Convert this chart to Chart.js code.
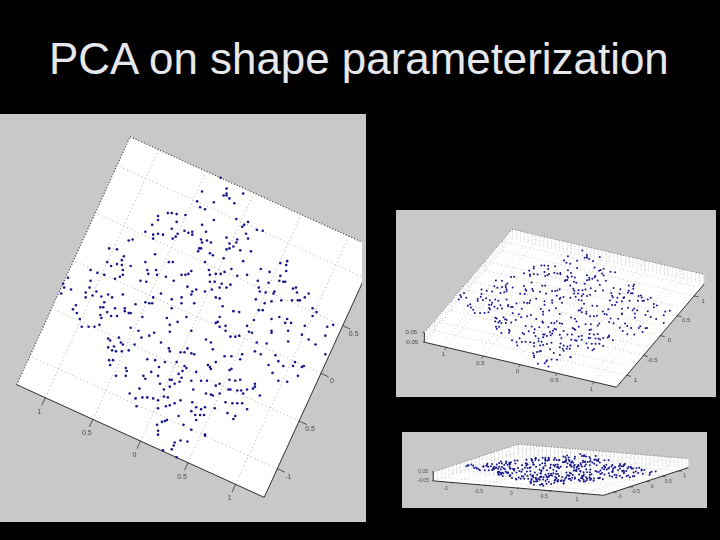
<!DOCTYPE html>
<html>
<head>
<meta charset="utf-8">
<title>PCA on shape parameterization</title>
<script src="https://cdn.jsdelivr.net/npm/chart.js@4"></script>
<style>
  html, body { margin: 0; background: #000; width: 720px; height: 540px; overflow: hidden; }
  h1 { position: absolute; left: 49px; top: 34px; margin: 0; color: #e6e8ec; white-space: nowrap;
       font: normal 43.9px/50px "Liberation Sans", Arial, sans-serif; }
  canvas { position: absolute; background: #c8c8c8; filter: blur(0.4px); }
</style>
</head>
<body>
<h1>PCA on shape parameterization</h1>
<canvas id="top-view" width="366" height="408" style="left:0;top:114px"></canvas>
<canvas id="tilt-view" width="320" height="187" style="left:396px;top:210px"></canvas>
<canvas id="side-view" width="305" height="76" style="left:402px;top:432px"></canvas>
<script>
// scores on the first two components
const pc1 = [
  .24,.30,.30,.27,.30,.33,.38,.47,.05,.00,.03,.08,.17,-.30,-.26,-.21,-.12,-.40,-.40,-.21,
  .05,.17,.40,.48,.52,.46,-.46,-.26,-.13,-.09,-.05,-.05,.09,-.53,-.45,-.45,-.40,-.35,-.22,-.25,
  -.20,.50,.41,.61,.67,.52,.30,.04,.05,.10,.14,.37,.40,.44,.55,.33,.02,.04,.01,.30,
  .33,.13,.16,-.90,-.82,-.70,-.66,-.43,-.75,-.77,-.92,-.82,-.88,-.77,-.68,-.53,-.29,-.25,.08,.27,
  .47,.35,.85,.92,.91,.65,.74,.91,.85,.84,.88,.90,.62,-1.09,-1.02,-.95,-.76,-.76,-.84,-.79,
  -.51,-.50,-.42,-.41,-.32,-.06,-.09,-.12,-.16,.12,.13,.19,.24,.28,.41,.51,.73,-1.32,-1.37,-1.29,
  -1.39,-1.36,-1.09,-1.10,-1.14,-1.14,-1.07,-1.03,-.58,-.52,-.24,-.10,-.01,-.05,.18,.13,.25,.34,.30,.23,
  .15,.08,-.37,-.45,-.76,-.91,-.87,-.98,-.06,-.16,-.26,-.16,.19,.23,.60,.64,.70,.78,.79,.69,
  .76,.86,.97,1.03,1.01,.98,1.02,1.14,1.10,1.05,.63,-.03,-.63,-.53,-.49,-.46,-.95,-.99,-.96,-1.24,
  -1.27,-1.23,-.84,-.92,-.88,-.82,-.74,-.74,-.70,-.68,-.99,-.98,-1.20,-.56,-.26,-.31,-.20,.19,.21,.23,
  .26,.37,.43,.63,.67,.58,.76,.84,.92,.90,.96,1.18,1.22,1.18,-.11,
  -1.18,-1.11,-1.05,-1.00,-.68,-.60,-.44,-.49,-.57,-.28,-.28,-.06,.23,.29,.29,.34,.39,.43,.51,.53,
  .56,.76,.76,.93,1.07,1.10,1.31,1.33,1.39,1.14,1.21,1.31,.93,.61,.71,.59,.65,.46,.44,.35,
  .28,.80,.83,.88,1.00,.98,1.09,1.07,.73,.77,1.03,.92,.83,.59,.59,.64,.33,.35,.33,.39,
  .44,.23,.19,.57,.51,.47,.45,.41,.34,.32,-.91,-.89,-.80,-.78,-.76,-.91,-.85,-.87,-.83,-.77,
  -.70,-.64,-.90,-.86,-.89,-.73,-.72,-.73,-.83,-.55,-.53,-.47,-.39,-.40,-.37,-.29,-.28,-.17,-.13,-.10,
  -.06,-.03,.09,.14,.16,-.51,-.43,-.33,-.21,-.13,-.11,.11,.13,.14,.19,-.15,-.19,-.01,-.28,-.26,
  -.16,-.18,-.23,-.28,-.38,-.34,-.59,-.69,-.63,-.56,-.51,-.45,-.34,-.30,-.40,-.06,.04,.10,-.04,.09,
  .14,.16,.23,-.17,-.62,-.40,-.32,-.28,-.23,-.05,-.06,-.01,.04,.08,-.02,.03,.07,.18,.31,.39,
  .37,.46,.51,.41,.36,.29,-.31,-.33,-.36,-.41,-.40,-.40,-.19,-.14,-.06,-.01,.08,.08,-.23,-.24,
  -.17,-.10,-.26,-.35,-.21
];
const pc2 = [
  1.42,1.31,1.26,1.24,1.24,1.21,1.16,1.26,1.28,1.18,1.12,1.10,1.17,1.06,1.06,1.05,1.04,1.03,.99,.97,
  .94,.99,1.00,.94,.97,.92,.94,.90,.88,.86,.87,.84,.87,.87,.84,.80,.85,.84,.82,.80,
  .85,.85,.79,.89,.88,.80,.81,.79,.76,.78,.76,.72,.76,.68,.67,.75,.70,.70,.67,.69,
  .70,.65,.63,.70,.69,.78,.79,.64,.62,.58,.56,.54,.52,.53,.52,.56,.56,.56,.56,.60,
  .57,.49,.55,.57,.53,.49,.46,.47,.42,.37,.36,.36,.37,.48,.45,.43,.48,.43,.39,.41,
  .48,.44,.48,.43,.41,.47,.44,.43,.43,.48,.43,.44,.44,.46,.42,.43,.35,.40,.34,.28,
  .24,.30,.37,.30,.25,.20,.22,.26,.37,.36,.37,.31,.28,.26,.36,.36,.34,.33,.30,.30,
  .28,.26,.24,.20,.23,.23,.20,.21,.23,.20,.18,.14,.20,.19,.18,.26,.25,.24,.26,.14,
  .16,.17,.17,.17,.30,.29,.25,.24,.20,.17,.30,.14,.13,.15,.14,.14,.15,.10,.10,.12,
  .08,.04,.09,.05,.01,.01,.09,.06,.04,.04,.02,-.01,-.02,.00,.09,-.01,-.05,-.06,-.05,.00,
  .11,.06,.05,.07,.07,-.03,-.02,.00,-.02,-.06,-.06,.09,.05,.01,.00,
  -.10,-.10,-.10,-.08,-.11,-.14,-.16,-.19,-.21,-.08,-.15,-.14,-.10,-.09,-.14,-.20,-.20,-.19,-.09,-.15,
  -.16,-.14,-.16,-.14,-.18,-.09,-.19,-.10,-.08,-.23,-.28,-.38,-.25,-.26,-.27,-.35,-.38,-.38,-.43,-.40,
  -.40,-.39,-.45,-.50,-.46,-.50,-.50,-.51,-.49,-.57,-.60,-.66,-.65,-.68,-.71,-.80,-.54,-.53,-.64,-.65,
  -.64,-.68,-.70,-.73,-.74,-.78,-.75,-.75,-.74,-.74,-.22,-.24,-.21,-.26,-.28,-.31,-.30,-.34,-.35,-.35,
  -.34,-.28,-.44,-.44,-.49,-.52,-.55,-.60,-.60,-.60,-.63,-.56,-.51,-.60,-.26,-.32,-.35,-.36,-.36,-.32,
  -.37,-.38,-.23,-.26,-.33,-.43,-.44,-.46,-.46,-.50,-.52,-.49,-.51,-.53,-.46,-.55,-.58,-.56,-.64,-.64,
  -.62,-.66,-.68,-.71,-.68,-.74,-.73,-.78,-.83,-.82,-.82,-.83,-.81,-.82,-.85,-.65,-.65,-.65,-.74,-.78,
  -.79,-.80,-.78,-.85,-.91,-.93,-.91,-.90,-.88,-.87,-.96,-.92,-.94,-.92,-1.00,-1.00,-1.00,-.93,-.98,-1.01,
  -1.04,-.88,-.94,-.88,-.88,-.87,-1.05,-1.06,-1.07,-1.10,-1.16,-1.20,-1.01,-1.10,-1.15,-1.05,-1.20,-1.21,-1.28,-1.31,
  -1.26,-1.27,-1.35,-1.36,-1.43
];

// axis ticks of the cube
const planeTicks = [-1, -0.5, 0, 0.5, 1];
const planeEnd = 1.3;
const zTicks = [-1, -0.5, 0, 0.5, 1];
const zTickLabels = ["-0.05", "0.05"];

// one entry per picture: how the cube was turned, and the window on the scales
const views = [
  { id: "top-view", eu: [-0.973, 0.442], ev: [0.446, 0.973], zh: 0, zoomX: [-1.975, 1.685], zoomY: [-2.05, 2.03],
    uLabels: ["1", "0.5", "0", "0.5", "1"], vLabels: ["-1", "0.5", "0", "0.5", "1"],
    font: 7, dot: 1.3, tick: 0.08, uOff: [-6, 14], vOff: [11, 8], gridColor: "#8a8a8a" },
  { id: "tilt-view", eu: [-0.758, 0.181], ev: [0.346, 0.415], zh: 0.05, zoomX: [-1.685, 1.515], zoomY: [-0.885, 0.985],
    uLabels: ["1", "0.5", "0", "0.5", "1"], vLabels: ["1", "-0.5", "0", "0.5", "1"],
    font: 6, dot: 1, tick: 0.06, uOff: [-3, 7], vOff: [9, 5], zOff: [-13, 0], gridColor: "#b0b0b0" },
  { id: "side-view", eu: [-0.673, 0.062], ev: [0.335, 0.119], zh: 0.05, zoomX: [-1.59, 1.46], zoomY: [-0.3825, 0.3775],
    uLabels: ["-1", "-0.5", "0", "0.5", "1"], vLabels: ["-1", "-0.5", "0", "0.5", "1"],
    font: 5, dot: 1, tick: 0.05, uOff: [-7, 6], vOff: [6, 5], zOff: [-10, 0], gridColor: "#bcbcbc" }
];

// the top view's turn relates the scores to the cube axes
const [a, c] = views[0].eu;
const [b, d] = views[0].ev;
const det = a * d - b * c;
const cubeU = pc1.map((p, i) => (d * p - b * pc2[i]) / det);
const cubeV = pc1.map((p, i) => (a * pc2[i] - c * p) / det);

function project(view, u, v, z) {
  return {
    x: u * view.eu[0] + v * view.ev[0],
    y: u * view.eu[1] + v * view.ev[1] + z * view.zh
  };
}

// segments with a gap between them, so one dataset holds many lines
function segments(view, list) {
  const out = [];
  list.forEach(s => {
    out.push(project(view, s[0], s[1], s[2]));
    out.push(project(view, s[3], s[4], s[5]));
    out.push({ x: null, y: null });
  });
  return out;
}

function lineSet(data, color, width, dash, order) {
  return { type: "scatter", showLine: true, data, borderColor: color, borderWidth: width, borderDash: dash,
    pointRadius: 0, tension: 0, spanGaps: false, order };
}

function makeDatasets(view) {
  const e = planeEnd;
  const hull = view.zh
    ? [[e, -e, 1], [e, e, 1], [-e, e, 1], [-e, e, -1], [-e, -e, -1], [e, -e, -1], [e, -e, 1]]
    : [[e, -e, 0], [e, e, 0], [-e, e, 0], [-e, -e, 0], [e, -e, 0]];
  const floor = view.zh ? -1 : 0;

  // floor grid, and back walls when the cube is tilted
  const grid = [];
  planeTicks.forEach(t => {
    grid.push([t, -e, floor, t, e, floor]);
    grid.push([-e, t, floor, e, t, floor]);
    if (view.zh) {
      grid.push([t, -e, 1, t, e, 1]);
      grid.push([-e, t, 1, e, t, 1]);
      grid.push([t, e, -1, t, e, 1]);
      grid.push([e, t, -1, e, t, 1]);
    }
  });
  if (view.zh) {
    zTicks.forEach(z => {
      grid.push([e, -e, z, e, e, z]);
      grid.push([e, e, z, -e, e, z]);
    });
  }

  const backEdges = [[e, e, view.zh ? 1 : 0, -e, e, view.zh ? 1 : 0], [e, -e, view.zh ? 1 : 0, e, e, view.zh ? 1 : 0]];
  const frontEdges = [[e, -e, floor, -e, -e, floor], [-e, -e, floor, -e, e, floor]];
  const ticks = [];
  planeTicks.forEach(t => {
    ticks.push([t, -e, floor, t, -e - view.tick, floor]);
    ticks.push([-e, t, floor, -e - view.tick, t, floor]);
  });
  if (view.zh) {
    frontEdges.push([e, -e, -1, e, -e, 1]);
    [-1, 1].forEach(z => ticks.push([e + view.tick * 0.4, -e, z, e, -e, z]));
  }

  return [
    { type: "scatter", label: "scores", data: cubeU.map((u, i) => project(view, u, cubeV[i], 0)),
      backgroundColor: "#16168c", borderWidth: 0, pointRadius: view.dot, order: 0 },
    lineSet(segments(view, frontEdges), "#2e2e2e", 1, [], 1),
    lineSet(segments(view, ticks), "#333333", 0.8, [], 2),
    lineSet(segments(view, backEdges), "#3c3c3c", view.zh ? 0.6 : 1.2, [1, 2], 3),
    lineSet(segments(view, grid), view.gridColor, 0.7, [1, 3], 4),
    { type: "scatter", showLine: true, data: hull.map(p => project(view, p[0], p[1], p[2])),
      backgroundColor: "#ffffff", borderWidth: 0, fill: "shape", pointRadius: 0, tension: 0, order: 5 }
  ];
}

// tick labels placed through the chart's own scales
const tickText = {
  id: "tickText",
  afterDatasetsDraw(chart, args, opts) {
    const view = opts.view;
    const floor = view.zh ? -1 : 0;
    const ctx = chart.ctx;
    const put = (p, off, text) => {
      ctx.fillText(text, chart.scales.x.getPixelForValue(p.x) + off[0], chart.scales.y.getPixelForValue(p.y) + off[1]);
    };
    ctx.save();
    ctx.font = view.font + 'px "Liberation Sans", Arial, sans-serif';
    ctx.fillStyle = "#4a4a4a";
    ctx.textAlign = "center";
    ctx.textBaseline = "middle";
    planeTicks.forEach((t, i) => {
      put(project(view, -t, -planeEnd, floor), view.uOff, view.uLabels[i]);
      put(project(view, -planeEnd, t, floor), view.vOff, view.vLabels[i]);
    });
    if (view.zh) {
      put(project(view, planeEnd, -planeEnd, -1), view.zOff, zTickLabels[0]);
      put(project(view, planeEnd, -planeEnd, 1), view.zOff, zTickLabels[1]);
    }
    ctx.restore();
  }
};

views.forEach(view => {
  new Chart(document.getElementById(view.id), {
    type: "scatter",
    data: { datasets: makeDatasets(view) },
    plugins: [tickText],
    options: {
      responsive: false,
      animation: false,
      events: [],
      layout: { padding: 0 },
      scales: {
        x: { type: "linear", display: false, min: view.zoomX[0], max: view.zoomX[1] },
        y: { type: "linear", display: false, min: view.zoomY[0], max: view.zoomY[1] }
      },
      plugins: { legend: { display: false }, tooltip: { enabled: false }, tickText: { view } }
    }
  });
});
</script>
</body>
</html>
